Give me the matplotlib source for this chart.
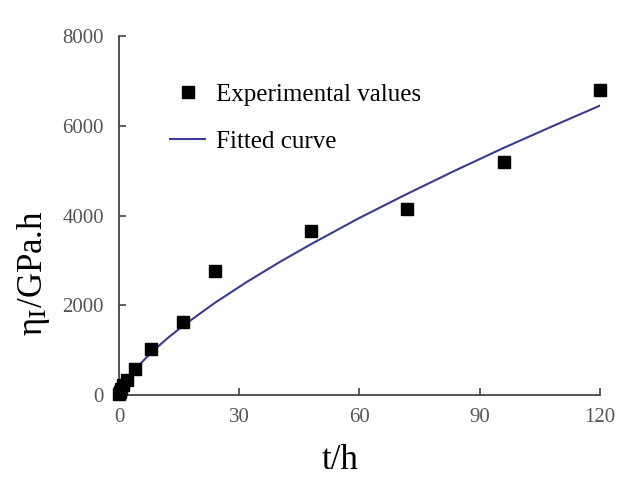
import matplotlib

matplotlib.use("Agg")
import matplotlib.pyplot as plt  # noqa: E402

# experimental points (t in h, eta in GPa.h)
t_exp = [0, 0.25, 0.5, 1, 2, 4, 8, 16, 24, 48, 72, 96, 120]
eta_exp = [30, 80, 150, 220, 330, 580, 1020, 1630, 2760, 3650, 4140, 5190, 6790]

# fitted curve
t_fit = [0, 0.5, 1, 2, 4, 8, 12, 16, 24, 32, 40, 48, 60, 72, 84, 96, 108, 120]
eta_fit = [0, 133, 217, 355, 580, 948, 1264, 1550, 2064, 2530, 2963, 3370,
           3950, 4490, 5010, 5510, 5985, 6450]

plt.rcParams["font.family"] = ["Liberation Serif", "DejaVu Serif"]
plt.rcParams["mathtext.fontset"] = "stix"

fig = plt.figure(figsize=(6.17, 4.82), dpi=100)
ax = fig.add_axes([0.193, 0.180, 0.779, 0.745])

ax.plot(t_fit, eta_fit, color="#3b3b8f", lw=1.5, label="Fitted curve", zorder=2)
ax.plot(t_exp, eta_exp, ls="none", marker="s", ms=8, color="black",
        label="Experimental values", zorder=3, clip_on=False)

ax.set_xlim(0, 120)
ax.set_ylim(0, 8000)
ax.set_xticks([0, 30, 60, 90, 120])
ax.set_yticks([0, 2000, 4000, 6000, 8000])
ax.tick_params(direction="in", length=5, width=1.2, labelsize=15,
               labelcolor="#555555", color="#444444")
ax.tick_params(axis="y", pad=11)
ax.tick_params(axis="x", pad=9)
for side in ("top", "right"):
    ax.spines[side].set_visible(False)
for side in ("left", "bottom"):
    ax.spines[side].set_color("#444444")
    ax.spines[side].set_linewidth(1.3)

ax.set_xlabel("t/h", fontsize=25)
ax.xaxis.set_label_coords(0.46, -0.135)
ax.set_ylabel("η$_\\mathrm{I}$/GPa.h", fontsize=25)
ax.yaxis.set_label_coords(-0.14, 0.34)

handles, labels = ax.get_legend_handles_labels()
ax.legend(handles[::-1], labels[::-1], loc="upper left",
          bbox_to_anchor=(0.106, 0.868), borderaxespad=0, borderpad=0,
          frameon=False, fontsize=18, handlelength=1.4,
          labelspacing=0.98, handletextpad=0.45)

fig.savefig("out.png", dpi=100)
